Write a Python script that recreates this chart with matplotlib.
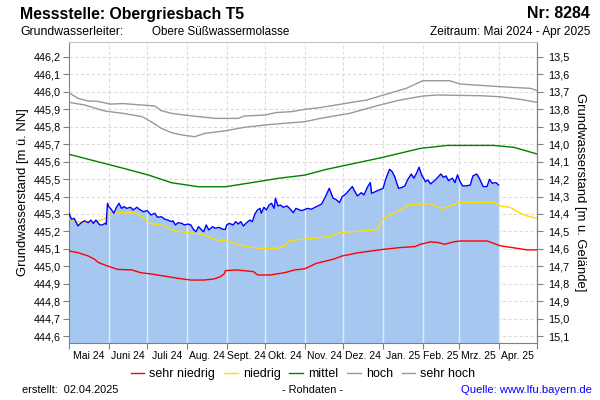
import matplotlib
matplotlib.use('Agg')
import matplotlib.pyplot as plt
import matplotlib.dates as mdates
from matplotlib.ticker import FixedLocator, FuncFormatter, NullFormatter
import numpy as np
import pandas as pd

plt.rcParams['font.family'] = ['Liberation Sans', 'DejaVu Sans']

# Rohdaten Grundwasserstand [m ü. NN]
roh_datum = ['2024-05-01', '2024-05-03', '2024-05-05', '2024-05-08', '2024-05-10', '2024-05-13',
             '2024-05-16', '2024-05-18', '2024-05-20', '2024-05-22', '2024-05-25', '2024-05-27',
             '2024-05-29', '2024-05-30', '2024-05-31', '2024-06-01', '2024-06-03', '2024-06-05',
             '2024-06-07', '2024-06-09', '2024-06-11', '2024-06-13', '2024-06-15', '2024-06-18',
             '2024-06-20', '2024-06-23', '2024-06-25', '2024-06-28', '2024-07-01', '2024-07-04',
             '2024-07-07', '2024-07-09', '2024-07-12', '2024-07-15', '2024-07-17', '2024-07-20',
             '2024-07-21', '2024-07-23', '2024-07-25', '2024-07-28', '2024-07-30', '2024-08-02',
             '2024-08-04', '2024-08-06', '2024-08-08', '2024-08-10', '2024-08-12', '2024-08-14',
             '2024-08-16', '2024-08-18', '2024-08-21', '2024-08-23', '2024-08-26', '2024-08-29',
             '2024-08-31', '2024-09-01', '2024-09-03', '2024-09-06', '2024-09-08', '2024-09-10',
             '2024-09-12', '2024-09-14', '2024-09-16', '2024-09-19', '2024-09-21', '2024-09-23',
             '2024-09-25', '2024-09-27', '2024-09-28', '2024-09-30', '2024-10-02', '2024-10-04',
             '2024-10-06', '2024-10-08', '2024-10-09', '2024-10-11', '2024-10-13', '2024-10-15',
             '2024-10-18', '2024-10-20', '2024-10-23', '2024-10-25', '2024-10-27', '2024-10-29',
             '2024-10-31', '2024-11-03', '2024-11-06', '2024-11-10', '2024-11-14', '2024-11-17',
             '2024-11-20', '2024-11-23', '2024-11-25', '2024-11-28', '2024-11-30', '2024-12-03',
             '2024-12-06', '2024-12-08', '2024-12-10', '2024-12-12', '2024-12-15', '2024-12-17',
             '2024-12-20', '2024-12-22', '2024-12-23', '2024-12-26', '2024-12-29', '2025-01-01',
             '2025-01-03', '2025-01-06', '2025-01-08', '2025-01-10', '2025-01-13', '2025-01-16',
             '2025-01-18', '2025-01-20', '2025-01-23', '2025-01-25', '2025-01-27', '2025-01-29',
             '2025-01-31', '2025-02-03', '2025-02-05', '2025-02-07', '2025-02-10', '2025-02-12',
             '2025-02-15', '2025-02-17', '2025-02-19', '2025-02-21', '2025-02-24', '2025-02-26',
             '2025-02-28', '2025-03-02', '2025-03-04', '2025-03-07', '2025-03-10', '2025-03-12',
             '2025-03-15', '2025-03-17', '2025-03-20', '2025-03-23', '2025-03-25', '2025-03-27',
             '2025-03-30', '2025-04-01']
roh_wert = [445.304, 445.269, 445.275, 445.231, 445.246, 445.261,
            445.250, 445.265, 445.246, 445.265, 445.237, 445.237,
            445.246, 445.240, 445.361, 445.342, 445.326, 445.304,
            445.338, 445.361, 445.332, 445.342, 445.332, 445.338,
            445.323, 445.338, 445.326, 445.313, 445.319, 445.294,
            445.304, 445.281, 445.284, 445.269, 445.265, 445.256,
            445.261, 445.237, 445.250, 445.246, 445.237, 445.242,
            445.237, 445.212, 445.198, 445.227, 445.212, 445.198,
            445.237, 445.208, 445.227, 445.218, 445.223, 445.212,
            445.212, 445.237, 445.246, 445.237, 445.256, 445.242,
            445.256, 445.231, 445.246, 445.265, 445.256, 445.300,
            445.323, 445.332, 445.304, 445.338, 445.323, 445.351,
            445.361, 445.332, 445.390, 445.346, 445.351, 445.338,
            445.346, 445.332, 445.307, 445.332, 445.326, 445.319,
            445.323, 445.332, 445.327, 445.342, 445.357, 445.399,
            445.447, 445.390, 445.384, 445.365, 445.399, 445.415,
            445.441, 445.457, 445.428, 445.403, 445.422, 445.409,
            445.457, 445.480, 445.418, 445.428, 445.438, 445.447,
            445.499, 445.556, 445.543, 445.514, 445.447, 445.453,
            445.461, 445.495, 445.529, 445.505, 445.533, 445.568,
            445.524, 445.485, 445.495, 445.472, 445.491, 445.505,
            445.529, 445.510, 445.518, 445.491, 445.505, 445.480,
            445.524, 445.485, 445.461, 445.461, 445.466, 445.518,
            445.529, 445.505, 445.457, 445.457, 445.499, 445.476,
            445.480, 445.466]

# Statistische Kennlinien
sh_datum = ['2024-05-01', '2024-05-08', '2024-05-16', '2024-05-24', '2024-06-02', '2024-06-12',
            '2024-06-21', '2024-07-07', '2024-07-12', '2024-07-20', '2024-07-30', '2024-08-13',
            '2024-08-23', '2024-09-10', '2024-09-15', '2024-10-01', '2024-10-09', '2024-10-22',
            '2024-11-01', '2024-11-13', '2024-12-06', '2024-12-19', '2025-01-04', '2025-01-19',
            '2025-02-01', '2025-02-22', '2025-03-02', '2025-04-02', '2025-04-26', '2025-05-01']
sh_wert = [445.995, 445.963, 445.948, 445.945, 445.930, 445.933,
           445.928, 445.919, 445.892, 445.877, 445.867, 445.856,
           445.848, 445.848, 445.862, 445.867, 445.881, 445.887,
           445.900, 445.910, 445.938, 445.953, 445.988, 446.020,
           446.064, 446.064, 446.045, 446.030, 446.020, 446.007]

h_datum = ['2024-05-01', '2024-05-13', '2024-05-29', '2024-06-12', '2024-06-27', '2024-07-04',
           '2024-07-12', '2024-07-20', '2024-07-28', '2024-08-07', '2024-08-15', '2024-08-31',
           '2024-09-15', '2024-10-01', '2024-10-16', '2024-11-01', '2024-11-13', '2024-12-06',
           '2024-12-27', '2025-01-14', '2025-02-01', '2025-02-12', '2025-03-18', '2025-04-02',
           '2025-04-18', '2025-05-01']
h_wert = [445.940, 445.925, 445.890, 445.877, 445.858, 445.829,
          445.791, 445.766, 445.753, 445.743, 445.762, 445.777,
          445.797, 445.810, 445.820, 445.829, 445.848, 445.877,
          445.920, 445.953, 445.976, 445.982, 445.978, 445.972,
          445.957, 445.940]

m_datum = ['2024-05-01', '2024-06-16', '2024-07-02', '2024-07-20', '2024-08-10', '2024-08-31',
           '2024-09-20', '2024-10-11', '2024-11-01', '2024-11-18', '2025-01-01', '2025-01-30',
           '2025-02-20', '2025-03-28', '2025-04-13', '2025-05-01']
m_wert = [445.642, 445.555, 445.523, 445.479, 445.456, 445.456,
          445.479, 445.504, 445.523, 445.556, 445.625, 445.676,
          445.693, 445.693, 445.682, 445.644]

n_datum = ['2024-05-01', '2024-05-06', '2024-05-13', '2024-05-21', '2024-05-28', '2024-05-29',
           '2024-06-02', '2024-06-06', '2024-06-21', '2024-06-25', '2024-06-29', '2024-07-03',
           '2024-07-09', '2024-07-15', '2024-07-18', '2024-07-24', '2024-08-01', '2024-08-08',
           '2024-08-15', '2024-08-20', '2024-08-25', '2024-09-01', '2024-09-08', '2024-09-16',
           '2024-09-27', '2024-10-10', '2024-10-16', '2024-10-20', '2024-10-25', '2024-10-31',
           '2024-11-08', '2024-11-20', '2024-11-28', '2024-12-09', '2024-12-19', '2024-12-28',
           '2024-12-31', '2025-01-04', '2025-01-12', '2025-01-18', '2025-01-21', '2025-01-30',
           '2025-02-08', '2025-02-13', '2025-02-17', '2025-02-22', '2025-02-28', '2025-03-02',
           '2025-03-28', '2025-04-02', '2025-04-10', '2025-04-18', '2025-04-23', '2025-05-01']
n_wert = [445.272, 445.256, 445.252, 445.256, 445.269, 445.275,
          445.300, 445.307, 445.307, 445.294, 445.275, 445.246,
          445.240, 445.231, 445.212, 445.202, 445.193, 445.189,
          445.179, 445.160, 445.151, 445.145, 445.131, 445.112,
          445.103, 445.103, 445.116, 445.147, 445.151, 445.155,
          445.160, 445.170, 445.193, 445.199, 445.203, 445.212,
          445.262, 445.285, 445.313, 445.338, 445.352, 445.357,
          445.357, 445.338, 445.332, 445.346, 445.361, 445.367,
          445.367, 445.346, 445.338, 445.304, 445.289, 445.275]

sn_datum = ['2024-05-01', '2024-05-08', '2024-05-16', '2024-05-21', '2024-05-24', '2024-05-29',
            '2024-06-03', '2024-06-08', '2024-06-19', '2024-06-26', '2024-07-04', '2024-07-14',
            '2024-07-25', '2024-08-04', '2024-08-14', '2024-08-22', '2024-08-27', '2024-08-30',
            '2024-08-31', '2024-09-09', '2024-09-22', '2024-09-25', '2024-10-05', '2024-10-16',
            '2024-10-24', '2024-11-01', '2024-11-10', '2024-11-23', '2024-11-30', '2024-12-13',
            '2025-01-01', '2025-01-14', '2025-01-26', '2025-01-30', '2025-02-07', '2025-02-13',
            '2025-02-18', '2025-02-25', '2025-03-02', '2025-03-23', '2025-03-28', '2025-04-02',
            '2025-04-10', '2025-04-19', '2025-04-23', '2025-05-01']
sn_wert = [445.088, 445.078, 445.059, 445.040, 445.021, 445.007,
           444.994, 444.982, 444.979, 444.963, 444.956, 444.944,
           444.931, 444.921, 444.921, 444.927, 444.940, 444.956,
           444.975, 444.979, 444.969, 444.950, 444.950, 444.963,
           444.979, 444.986, 445.017, 445.040, 445.059, 445.078,
           445.097, 445.107, 445.113, 445.126, 445.140, 445.136,
           445.126, 445.140, 445.145, 445.145, 445.132, 445.118,
           445.109, 445.099, 445.094, 445.094]

monate = ['Mai 24', 'Juni 24', 'Juli 24', 'Aug. 24', 'Sept. 24', 'Okt. 24',
          'Nov. 24', 'Dez. 24', 'Jan. 25', 'Feb. 25', 'Mrz. 25', 'Apr. 25']
links_ticks = [444.6, 444.7, 444.8, 444.9, 445.0, 445.1, 445.2, 445.3,
               445.4, 445.5, 445.6, 445.7, 445.8, 445.9, 446.0, 446.1, 446.2]
rechts_ticks = [13.5, 13.6, 13.7, 13.8, 13.9, 14.0, 14.1, 14.2, 14.3,
                14.4, 14.5, 14.6, 14.7, 14.8, 14.9, 15.0, 15.1]
gelaende = 459.7  # m ü. NN, Bezug für rechte Achse

d = pd.to_datetime
monatsanfang = pd.date_range('2024-05-01', '2025-05-01', freq='MS')
monatsmitte = monatsanfang[:-1] + (monatsanfang[1:] - monatsanfang[:-1]) / 2

fig = plt.figure(figsize=(6, 4), dpi=100)
ax = fig.add_axes([69 / 600, 1 - 343 / 400, (537 - 69) / 600, (343 - 42) / 400])
y_unten, y_oben = 444.56, 446.286
ax.set_ylim(y_unten, y_oben)
ax.set_xlim(monatsanfang[0], monatsanfang[-1])

grau = '#808080'
# Raster
for y in links_ticks:
    ax.axhline(y, color='#dcdcdc', lw=0.8, ls=(0, (3, 2)), zorder=0)
for m in monatsanfang[1:-1]:
    ax.axvline(m, color='#dcdcdc', lw=0.8, ls=(0, (3, 2)), zorder=0)

roh_x = d(roh_datum)
ax.fill_between(roh_x, y_unten, roh_wert, color='#a6c8f0', lw=0, zorder=1)
# helle Monatslinien in der Fläche
rx = mdates.date2num(roh_x)
for m in monatsanfang[1:-1]:
    mx = mdates.date2num(m)
    if mx <= rx[-1]:
        ax.vlines(m, y_unten, np.interp(mx, rx, roh_wert), color='#e4eaf2', lw=1, zorder=2)

ax.plot(d(sh_datum), sh_wert, color='#999999', lw=1, zorder=3, label='sehr hoch')
ax.plot(d(h_datum), h_wert, color='#999999', lw=1, zorder=3, label='hoch')
ax.plot(d(m_datum), m_wert, color='#008000', lw=1, zorder=3, label='mittel')
ax.plot(d(n_datum), n_wert, color='#ffdc00', lw=1, zorder=3, label='niedrig')
ax.plot(d(sn_datum), sn_wert, color='#ff0000', lw=1, zorder=3, label='sehr niedrig')
ax.plot(roh_x, roh_wert, color='#0000ff', lw=1, zorder=4)

komma = FuncFormatter(lambda v, p: f'{v:.1f}'.replace('.', ','))
ax.yaxis.set_major_locator(FixedLocator(links_ticks))
ax.yaxis.set_major_formatter(komma)
ax.xaxis.set_major_locator(FixedLocator(mdates.date2num(monatsanfang)))
ax.xaxis.set_major_formatter(NullFormatter())
ax.xaxis.set_minor_locator(FixedLocator(mdates.date2num(monatsmitte)))
ax.xaxis.set_minor_formatter(FuncFormatter(lambda v, p: monate[p] if p is not None and p < len(monate) else ''))
ax.tick_params(axis='x', which='minor', length=0, labelsize=7.5, pad=6)
ax.tick_params(axis='both', which='major', direction='out', length=4, color=grau, labelsize=7.8, pad=2)

ax2 = ax.twinx()
ax2.set_ylim(gelaende - y_unten, gelaende - y_oben)
ax2.yaxis.set_major_locator(FixedLocator(rechts_ticks))
ax2.yaxis.set_major_formatter(komma)
ax2.tick_params(direction='out', length=4, color=grau, labelsize=7.8, pad=4)

for a in (ax, ax2):
    a.spines['left'].set_color(grau)
    a.spines['right'].set_color(grau)
    a.spines['bottom'].set_color(grau)
    a.spines['top'].set_color('#c8c8c8')
ax2.spines['left'].set_visible(False)
ax2.spines['bottom'].set_visible(False)

ax.set_ylabel('Grundwasserstand [m ü. NN]', fontsize=9.4, labelpad=3)
ax2.set_ylabel('Grundwasserstand [m u. Gelände]', fontsize=9.4, rotation=-90, labelpad=12)

# Kopf und Fuß
fig.text(20 / 600, 1 - 14 / 400, 'Messstelle: Obergriesbach T5', fontsize=11.4, fontweight='bold', va='center')
fig.text(590 / 600, 1 - 14 / 400, 'Nr: 8284', fontsize=11.4, fontweight='bold', va='center', ha='right')
fig.text(20 / 600, 1 - 32 / 400, 'Grundwasserleiter:', fontsize=8.8, va='center')
fig.text(152 / 600, 1 - 32 / 400, 'Obere Süßwassermolasse', fontsize=8.4, va='center')
fig.text(590 / 600, 1 - 32 / 400, 'Zeitraum: Mai 2024 - Apr 2025', fontsize=8.6, va='center', ha='right')

h, l = ax.get_legend_handles_labels()
reihenfolge = ['sehr niedrig', 'niedrig', 'mittel', 'hoch', 'sehr hoch']
h = [h[l.index(n)] for n in reihenfolge]
fig.legend(h, reihenfolge, loc='center', bbox_to_anchor=(0.505, 1 - 374 / 400), ncol=5, frameon=False,
           fontsize=9, handlelength=1.1, handletextpad=0.4, columnspacing=0.7)

fig.text(22 / 600, 1 - 390 / 400, 'erstellt:  02.04.2025', fontsize=7.9, va='center')
fig.text(312 / 600, 1 - 390 / 400, '- Rohdaten -', fontsize=7.9, va='center', ha='center')
fig.text(592 / 600, 1 - 390 / 400, 'Quelle: www.lfu.bayern.de', fontsize=8.1, va='center', ha='right', color='#0000ff')

fig.savefig('out.png', dpi=100)
